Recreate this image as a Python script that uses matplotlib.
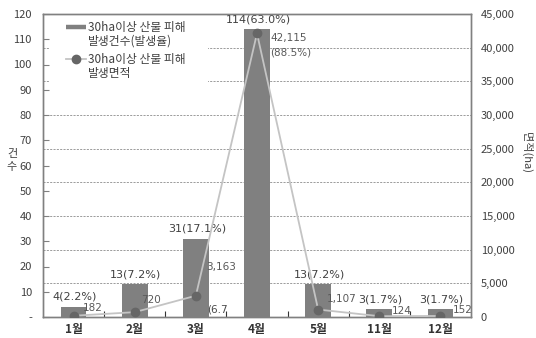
import matplotlib
matplotlib.use("Agg")
import matplotlib.pyplot as plt
from matplotlib.lines import Line2D
from matplotlib.patches import Rectangle
import numpy as np

plt.rcParams['font.family'] = ['Noto Sans CJK KR', 'DejaVu Sans']

# Monthly large-fire (30ha+) statistics
months = ['1월', '2월', '3월', '4월', '5월', '11월', '12월']
counts = [4, 13, 31, 114, 13, 3, 3]
count_rates = ['2.2%', '7.2%', '17.1%', '63.0%', '7.2%', '1.7%', '1.7%']
areas = [182, 720, 3163, 42115, 1107, 124, 152]
area_labels = ['182', '720', '3,163', '42,115\n(88.5%)', '1,107', '124', '152']
left_ticks = [0, 10, 20, 30, 40, 50, 60, 70, 80, 90, 100, 110, 120]
right_ticks = [0, 5000, 10000, 15000, 20000, 25000, 30000, 35000, 40000, 45000]
legend_labels = ['30ha이상 산불 피해\n발생건수(발생율)', '30ha이상 산불 피해\n발생면적']

# label offsets in pixels (dx, dy) next to each area marker
area_offsets = [(9, 8), (6, 12), (10, 29), (13, -12), (9, 11), (13, 5), (12, 6)]

bar_color = '#808080'
line_color = '#c4c4c4'
marker_color = '#666666'
text_color = '#404040'
frame_color = '#808080'
num_font = 'DejaVu Sans'

W, H = 536, 338
fig = plt.figure(figsize=(W / 100, H / 100), dpi=100)
ax = fig.add_axes([43 / W, 21 / H, 428 / W, 303 / H])
ax2 = ax.twinx()


def fpos(px, py):
    """Pixel position (from top-left) to figure fraction."""
    return px / W, 1 - py / H


x = np.arange(len(months))
ymax_left, ymax_right = left_ticks[-1], right_ticks[-1]

# dashed grid follows the area axis, drawn behind the bars
for g in right_ticks[1:-1]:
    ax.axhline(g * ymax_left / ymax_right, color='#8c8c8c', lw=0.6,
               ls=(0, (2.5, 1.5)), zorder=0)

ax.bar(x, counts, width=0.42, color=bar_color, zorder=2)
ax.set_xlim(-0.5, len(months) - 0.5)
ax.set_ylim(0, ymax_left)
ax.set_yticks(left_ticks)
ax.set_yticklabels(['-'] + [str(t) for t in left_ticks[1:]])
ax.tick_params(axis='y', direction='in', length=4, width=0.8, color=frame_color,
               labelsize=8, labelcolor=text_color, pad=8)
ax.set_xticks(x)
ax.set_xticklabels(months, fontweight='bold', fontsize=8.5, color='#333333')
ax.tick_params(axis='x', length=0, pad=4)
ax.set_xticks(np.arange(0.5, len(months) - 1, 1), minor=True)
ax.tick_params(axis='x', which='minor', direction='in', length=4, width=0.8,
               color='#333333')

for xi, c, r in zip(x, counts, count_rates):
    ax.annotate(f'{c}({r})', (xi, c), xytext=(1, 5), textcoords='offset pixels',
                ha='center', va='bottom', fontsize=8, family=num_font,
                color=text_color, zorder=5)

ax2.plot(x, areas, color=line_color, lw=1.3, marker='o', markersize=6,
         markerfacecolor=marker_color, markeredgecolor=marker_color, zorder=3)
ax2.set_ylim(0, ymax_right)
ax2.set_yticks(right_ticks)
ax2.set_yticklabels([f'{t:,}' for t in right_ticks])
ax2.tick_params(axis='y', length=0, labelsize=8, labelcolor=text_color, pad=7)

for xi, a, lab, (dx, dy) in zip(x, areas, area_labels, area_offsets):
    ax2.annotate(lab, (xi, a), xytext=(dx, dy), textcoords='offset pixels',
                 ha='left', va='center', fontsize=7.5, family=num_font,
                 color='#595959', linespacing=1.6, zorder=6)
ax2.annotate('(6.7', (x[2], areas[2]), xytext=(11, -14), textcoords='offset pixels',
             ha='left', va='center', fontsize=7.5, family=num_font,
             color='#4a4a4a', zorder=6)

for a in (ax, ax2):
    for s in a.spines.values():
        s.set_color(frame_color)
        s.set_linewidth(1.0)

# axis titles
fig.text(*fpos(12, 154), '건', ha='center', va='center', fontsize=8, color=text_color)
fig.text(*fpos(12, 167), '수', ha='center', va='center', fontsize=8, color=text_color)
fig.text(*fpos(527, 152), '면적(ha)', ha='center', va='center',
         rotation=-90, fontsize=8, color=text_color)

# legend box in the upper-left corner of the plot
fig.patches.append(Rectangle(fpos(50, 88), 158 / W, 72 / H, transform=fig.transFigure,
                             facecolor='white', edgecolor='none', zorder=8))
bar_y = 27
fig.add_artist(Line2D([66 / W, 86 / W], [1 - bar_y / H] * 2, color=bar_color, lw=3.2,
                      solid_capstyle='butt', zorder=9))
line_y = 59
fig.add_artist(Line2D([66 / W, 86 / W], [1 - line_y / H] * 2, color=line_color, lw=1.3,
                      zorder=9))
fig.add_artist(Line2D([76 / W], [1 - line_y / H], marker='o', markersize=6,
                      color=marker_color, zorder=9))
for lab, ty in zip(legend_labels, (bar_y, line_y)):
    first, second = lab.split('\n')
    fig.text(*fpos(88, ty), first, ha='left', va='center', fontsize=8.5,
             color=text_color, zorder=10)
    fig.text(*fpos(88, ty + 14.5), second, ha='left', va='center', fontsize=8.5,
             color=text_color, zorder=10)

fig.savefig('out.png', dpi=100)
